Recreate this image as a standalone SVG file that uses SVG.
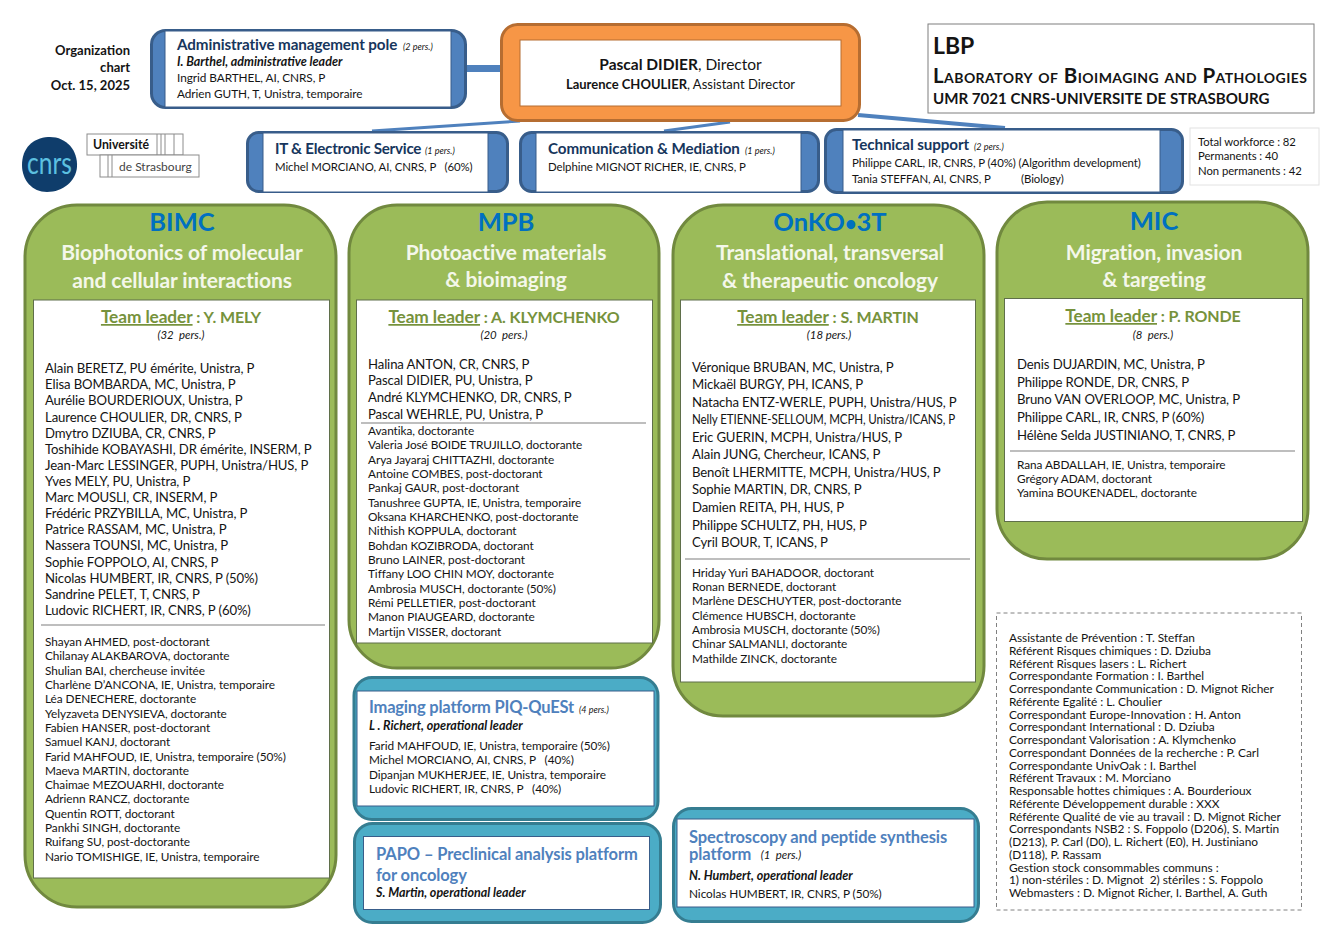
<svg xmlns="http://www.w3.org/2000/svg" width="1340" height="948" viewBox="0 0 1340 948">
<style>
text{font-family:Lato,"Liberation Sans",sans-serif;fill:#141414;white-space:pre}
.m{font-size:13.15px;letter-spacing:-.12px}
.s{font-size:11.8px;letter-spacing:-.06px}
.s2{font-size:11.4px;letter-spacing:-.06px}
.n{font-size:11.3px;letter-spacing:-.04px}
.r{font-size:11.9px;letter-spacing:-.04px}
.tt{font-size:25.5px;font-weight:700;fill:#0070c0;text-anchor:middle}
.st{font-size:21px;font-weight:700;fill:#f4f7ea;text-anchor:middle;letter-spacing:-.1px}
.tl{font-size:16px;font-weight:700;fill:#76923c;text-anchor:middle;letter-spacing:-.1px}
.tl .u{font-size:17.3px;text-decoration:underline}
.p{font-size:11.4px;font-style:italic;text-anchor:middle}
.pp{font-size:9px;font-style:italic}
.h{font-size:15.2px;font-weight:700;fill:#17365d;letter-spacing:-.1px}
.b{font-size:16.5px;font-weight:700;fill:#4f81bd;letter-spacing:-.1px}
.bi{font-size:12.5px;font-weight:700;font-style:italic}
.g{fill:#9bbb59;stroke:#71893f;stroke-width:3}
.a{fill:#4f81bd;stroke:#385d8a;stroke-width:3}
.c{fill:#4bacc6;stroke:#357d91;stroke-width:3}
.w{fill:#fff;stroke:#5f6f4a;stroke-width:1}
.wb{fill:#fff;stroke:#385d8a;stroke-width:1}
.rule{stroke:#7f7f7f;stroke-width:1.2}
.lg{fill:#fff;stroke:#8c8c8c;stroke-width:1}
</style>
<g id="connectors" stroke="#4f81bd" fill="none">
<path d="M466 68.500H501" stroke-width="7"/>
<path d="M520 121L372 131" stroke-width="3"/>
<path d="M730 122L664 131" stroke-width="3"/>
<path d="M858 115L1005 128" stroke-width="4"/>
</g>
<g id="org-label" text-anchor="end">
<text x="130" y="55" font-size="13" font-weight="700">Organization</text>
<text x="130" y="72" font-size="13" font-weight="700">chart</text>
<text x="130" y="90" font-size="13" font-weight="700">Oct. 15, 2025</text>
</g>
<g id="admin-pole">
<rect class="a" x="151.500" y="30.500" width="314" height="77" rx="14"/>
<rect class="wb" x="165" y="31" width="286" height="76"/>
<text class="h" x="177" y="50">Administrative management pole</text><text class="pp" x="403" y="50">(2 pers.)</text>
<text class="bi" x="177" y="65.500">I. Barthel, administrative leader</text>
<text class="s" x="177" y="82">Ingrid BARTHEL, AI, CNRS, P</text>
<text class="s" x="177" y="98">Adrien GUTH, T, Unistra, temporaire</text>
</g>
<g id="director">
<rect x="501.500" y="24.500" width="358" height="96" rx="16" fill="#f79646" stroke="#b66d31" stroke-width="3"/>
<rect x="520" y="40" width="321" height="66" fill="#fff" stroke="#b66d31" stroke-width="1"/>
<text x="680.500" y="70" font-size="15.500" text-anchor="middle"><tspan font-weight="700">Pascal DIDIER</tspan>, Director</text>
<text x="680.500" y="89" font-size="13" text-anchor="middle"><tspan font-weight="700">Laurence CHOULIER</tspan>, Assistant Director</text>
</g>
<g id="lbp">
<rect x="928" y="24" width="386" height="89" fill="#fff" stroke="#7f7f7f" stroke-width="1"/>
<text x="933" y="54" font-size="23" font-weight="700">LBP</text>
<text x="933" y="83" font-size="20.500" font-weight="700" letter-spacing=".43" style="font-variant:small-caps">Laboratory of Bioimaging and Pathologies</text>
<text x="933" y="104" font-size="15.100" font-weight="700">UMR 7021 CNRS-UNIVERSITE DE STRASBOURG</text>
</g>
<g id="logos">
<path d="M22 165C22 148 33 138 48 137C66 136 78 150 77 167C76 181 63 192 47 192C32 192 22 180 22 165Z" fill="#0f3d6b"/>
<text x="27" y="174" font-size="31" textLength="45" lengthAdjust="spacingAndGlyphs" style="fill:#5cc0e0">cnrs</text>
<rect class="lg" x="87" y="134" width="96" height="21"/>
<path class="lg" d="M157 134V155M161 134V155M165 134V155M174 134V155"/>
<rect class="lg" x="100" y="155" width="99" height="22"/>
<path class="lg" d="M108 155V177M112 155V177"/>
<text x="93" y="149" font-size="12.300" font-weight="700">Université</text>
<text x="119" y="171" font-size="12" style="fill:#444">de Strasbourg</text>
</g>
<g id="it-service">
<rect class="a" x="247.500" y="132.500" width="260" height="59" rx="11"/>
<rect class="wb" x="263" y="133" width="225" height="59"/>
<text class="h" x="275" y="154" style="letter-spacing:-.25px">IT &amp; Electronic Service</text><text class="pp" x="425" y="154">(1 pers.)</text>
<text class="s2" x="275" y="171">Michel MORCIANO, AI, CNRS, P   (60%)</text>
</g>
<g id="communication">
<rect class="a" x="520.500" y="132.500" width="298" height="59" rx="11"/>
<rect class="wb" x="536" y="133" width="265" height="59"/>
<text class="h" x="548" y="154">Communication &amp; Mediation</text><text class="pp" x="745" y="154">(1 pers.)</text>
<text class="s2" x="548" y="171">Delphine MIGNOT RICHER, IE, CNRS, P</text>
</g>
<g id="technical">
<rect class="a" x="825.500" y="129.500" width="357" height="63" rx="11"/>
<rect class="wb" x="843" y="130" width="317" height="62"/>
<text class="h" x="852" y="150">Technical support</text><text class="pp" x="974" y="150">(2 pers.)</text>
<text class="s2" x="852" y="167">Philippe CARL, IR, CNRS, P (40%) (Algorithm development)</text>
<text class="s2" x="852" y="183">Tania STEFFAN, AI, CNRS, P</text><text class="s2" x="1021" y="183">(Biology)</text>
</g>
<g id="workforce">
<rect x="1190" y="128" width="129" height="57" fill="#fff" stroke="#e2e2e2"/>
<text class="n" x="1198" y="146">Total workforce : 82</text>
<text class="n" x="1198" y="160">Permanents : 40</text>
<text class="n" x="1198" y="175">Non permanents : 42</text>
</g>
<g id="bimc">
<rect class="g" x="25" y="205" width="311" height="702" rx="52"/>
<rect class="w" x="33.500" y="300" width="296" height="578"/>
<text class="tt" x="182" y="231">BIMC</text>
<text class="st" x="182" y="260">Biophotonics of molecular</text>
<text class="st" x="182" y="288">and cellular interactions</text>
<text class="tl" x="181" y="323"><tspan class="u">Team leader</tspan> : Y. MELY</text>
<text class="p" x="181" y="339">(32  pers.)</text>
<text class="m" x="45" y="372.500">Alain BERETZ, PU émérite, Unistra, P</text>
<text class="m" x="45" y="388.500">Elisa BOMBARDA, MC, Unistra, P</text>
<text class="m" x="45" y="404.500">Aurélie BOURDERIOUX, Unistra, P</text>
<text class="m" x="45" y="421.500">Laurence CHOULIER, DR, CNRS, P</text>
<text class="m" x="45" y="438">Dmytro DZIUBA, CR, CNRS, P</text>
<text class="m" x="45" y="454">Toshihide KOBAYASHI, DR émérite, INSERM, P</text>
<text class="m" x="45" y="470">Jean-Marc LESSINGER, PUPH, Unistra/HUS, P</text>
<text class="m" x="45" y="486">Yves MELY, PU, Unistra, P</text>
<text class="m" x="45" y="502">Marc MOUSLI, CR, INSERM, P</text>
<text class="m" x="45" y="518">Frédéric PRZYBILLA, MC, Unistra, P</text>
<text class="m" x="45" y="534">Patrice RASSAM, MC, Unistra, P</text>
<text class="m" x="45" y="550">Nassera TOUNSI, MC, Unistra, P</text>
<text class="m" x="45" y="566.500">Sophie FOPPOLO, AI, CNRS, P</text>
<text class="m" x="45" y="583">Nicolas HUMBERT, IR, CNRS, P (50%)</text>
<text class="m" x="45" y="599">Sandrine PELET, T, CNRS, P</text>
<text class="m" x="45" y="615">Ludovic RICHERT, IR, CNRS, P (60%)</text>
<path class="rule" d="M41 625H325"/>
<text class="s" x="45" y="646">Shayan AHMED, post-doctorant</text>
<text class="s" x="45" y="660">Chilanay ALAKBAROVA, doctorante</text>
<text class="s" x="45" y="675">Shulian BAI, chercheuse invitée</text>
<text class="s" x="45" y="689">Charlène D’ANCONA, IE, Unistra, temporaire</text>
<text class="s" x="45" y="703">Léa DENECHERE, doctorante</text>
<text class="s" x="45" y="718">Yelyzaveta DENYSIEVA, doctorante</text>
<text class="s" x="45" y="732">Fabien HANSER, post-doctorant</text>
<text class="s" x="45" y="746">Samuel KANJ, doctorant</text>
<text class="s" x="45" y="761">Farid MAHFOUD, IE, Unistra, temporaire (50%)</text>
<text class="s" x="45" y="775">Maeva MARTIN, doctorante</text>
<text class="s" x="45" y="789">Chaimae MEZOUARHI, doctorante</text>
<text class="s" x="45" y="803">Adrienn RANCZ, doctorante</text>
<text class="s" x="45" y="818">Quentin ROTT, doctorant</text>
<text class="s" x="45" y="832">Pankhi SINGH, doctorante</text>
<text class="s" x="45" y="846">Ruifang SU, post-doctorante</text>
<text class="s" x="45" y="861">Nario TOMISHIGE, IE, Unistra, temporaire</text>
</g>
<g id="mpb">
<rect class="g" x="349" y="205" width="310" height="463" rx="48"/>
<rect class="w" x="356.500" y="300" width="296" height="343"/>
<text class="tt" x="506" y="231">MPB</text>
<text class="st" x="506" y="260">Photoactive materials</text>
<text class="st" x="506" y="287">&amp; bioimaging</text>
<text class="tl" x="504" y="323"><tspan class="u">Team leader</tspan> : A. KLYMCHENKO</text>
<text class="p" x="504" y="339">(20  pers.)</text>
<text class="m" x="368" y="369">Halina ANTON, CR, CNRS, P</text>
<text class="m" x="368" y="385">Pascal DIDIER, PU, Unistra, P</text>
<text class="m" x="368" y="402">André KLYMCHENKO, DR, CNRS, P</text>
<text class="m" x="368" y="419">Pascal WEHRLE, PU, Unistra, P</text>
<path class="rule" d="M361 423H646"/>
<text class="s" x="368" y="435">Avantika, doctorante</text>
<text class="s" x="368" y="449">Valeria José BOIDE TRUJILLO, doctorante</text>
<text class="s" x="368" y="464">Arya Jayaraj CHITTAZHI, doctorante</text>
<text class="s" x="368" y="478">Antoine COMBES, post-doctorant</text>
<text class="s" x="368" y="492">Pankaj GAUR, post-doctorant</text>
<text class="s" x="368" y="507">Tanushree GUPTA, IE, Unistra, temporaire</text>
<text class="s" x="368" y="521">Oksana KHARCHENKO, post-doctorante</text>
<text class="s" x="368" y="535">Nithish KOPPULA, doctorant</text>
<text class="s" x="368" y="550">Bohdan KOZIBRODA, doctorant</text>
<text class="s" x="368" y="564">Bruno LAINER, post-doctorant</text>
<text class="s" x="368" y="578">Tiffany LOO CHIN MOY, doctorante</text>
<text class="s" x="368" y="593">Ambrosia MUSCH, doctorante (50%)</text>
<text class="s" x="368" y="607">Rémi PELLETIER, post-doctorant</text>
<text class="s" x="368" y="621">Manon PIAUGEARD, doctorante</text>
<text class="s" x="368" y="636">Martijn VISSER, doctorant</text>
</g>
<g id="onko">
<rect class="g" x="673" y="205" width="311" height="511" rx="50"/>
<rect class="w" x="680.500" y="300" width="295" height="382"/>
<text class="tt" x="830" y="231">OnKO<tspan font-size="20">•</tspan>3T</text>
<text class="st" x="830" y="260">Translational, transversal</text>
<text class="st" x="830" y="288">&amp; therapeutic oncology</text>
<text class="tl" x="828" y="323"><tspan class="u">Team leader</tspan> : S. MARTIN</text>
<text class="p" x="829" y="339">(18 pers.)</text>
<text class="m" x="692" y="372">Véronique BRUBAN, MC, Unistra, P</text>
<text class="m" x="692" y="389">Mickaël BURGY, PH, ICANS, P</text>
<text class="m" x="692" y="407">Natacha ENTZ-WERLE, PUPH, Unistra/HUS, P</text>
<text class="m" x="692" y="424" textLength="263" lengthAdjust="spacingAndGlyphs">Nelly ETIENNE-SELLOUM, MCPH, Unistra/ICANS, P</text>
<text class="m" x="692" y="442">Eric GUERIN, MCPH, Unistra/HUS, P</text>
<text class="m" x="692" y="459">Alain JUNG, Chercheur, ICANS, P</text>
<text class="m" x="692" y="477">Benoît LHERMITTE, MCPH, Unistra/HUS, P</text>
<text class="m" x="692" y="494">Sophie MARTIN, DR, CNRS, P</text>
<text class="m" x="692" y="512">Damien REITA, PH, HUS, P</text>
<text class="m" x="692" y="530">Philippe SCHULTZ, PH, HUS, P</text>
<text class="m" x="692" y="547">Cyril BOUR, T, ICANS, P</text>
<path class="rule" d="M685 559H970"/>
<text class="s" x="692" y="577">Hriday Yuri BAHADOOR, doctorant</text>
<text class="s" x="692" y="591">Ronan BERNEDE, doctorant</text>
<text class="s" x="692" y="605">Marlène DESCHUYTER, post-doctorante</text>
<text class="s" x="692" y="620">Clémence HUBSCH, doctorante</text>
<text class="s" x="692" y="634">Ambrosia MUSCH, doctorante (50%)</text>
<text class="s" x="692" y="648">Chinar SALMANLI, doctorante</text>
<text class="s" x="692" y="663">Mathilde ZINCK, doctorante</text>
</g>
<g id="mic">
<rect class="g" x="997" y="202" width="311" height="357" rx="50"/>
<rect class="w" x="1004.500" y="298.500" width="298" height="223"/>
<text class="tt" x="1154" y="230">MIC</text>
<text class="st" x="1154" y="260">Migration, invasion</text>
<text class="st" x="1154" y="287">&amp; targeting</text>
<text class="tl" x="1153" y="322"><tspan class="u">Team leader</tspan> : P. RONDE</text>
<text class="p" x="1153" y="339">(8  pers.)</text>
<text class="m" x="1017" y="369">Denis DUJARDIN, MC, Unistra, P</text>
<text class="m" x="1017" y="387">Philippe RONDE, DR, CNRS, P</text>
<text class="m" x="1017" y="404">Bruno VAN OVERLOOP, MC, Unistra, P</text>
<text class="m" x="1017" y="422">Philippe CARL, IR, CNRS, P (60%)</text>
<text class="m" x="1017" y="440">Hélène Selda JUSTINIANO, T, CNRS, P</text>
<path class="rule" d="M1010 451H1295"/>
<text class="s" x="1017" y="469">Rana ABDALLAH, IE, Unistra, temporaire</text>
<text class="s" x="1017" y="483">Grégory ADAM, doctorant</text>
<text class="s" x="1017" y="497">Yamina BOUKENADEL, doctorante</text>
</g>
<g id="piq-quest">
<rect class="c" x="354" y="677.500" width="304" height="142" rx="18"/>
<rect class="wb" x="357" y="691" width="297" height="115"/>
<text class="b" x="369" y="713" style="letter-spacing:-.2px">Imaging platform PIQ-QuESt</text><text class="pp" x="579" y="713">(4 pers.)</text>
<text class="bi" x="369" y="730">L . Richert, operational leader</text>
<text class="s" x="369" y="750">Farid MAHFOUD, IE, Unistra, temporaire (50%)</text>
<text class="s" x="369" y="764">Michel MORCIANO, AI, CNRS, P   (40%)</text>
<text class="s" x="369" y="779">Dipanjan MUKHERJEE, IE, Unistra, temporaire</text>
<text class="s" x="369" y="793">Ludovic RICHERT, IR, CNRS, P   (40%)</text>
</g>
<g id="papo">
<rect class="c" x="354.500" y="823.500" width="306" height="99" rx="18"/>
<rect class="wb" x="363.500" y="836.500" width="286" height="73"/>
<text class="b" x="376" y="859.500">PAPO – Preclinical analysis platform</text>
<text class="b" x="376" y="880.500">for oncology</text>
<text class="bi" x="376" y="897">S. Martin, operational leader</text>
</g>
<g id="spectroscopy">
<rect class="c" x="673.500" y="808.500" width="305" height="113" rx="18"/>
<rect class="wb" x="677" y="819" width="297" height="88"/>
<text class="b" x="689" y="842.500">Spectroscopy and peptide synthesis</text>
<text class="b" x="689" y="859.500">platform</text><text class="p" x="781" y="859">(1  pers.)</text>
<text class="bi" x="689" y="880">N. Humbert, operational leader</text>
<text class="s" x="689" y="898">Nicolas HUMBERT, IR, CNRS, P (50%)</text>
</g>
<g id="roles">
<rect x="996.500" y="613" width="305" height="297" fill="#fff" stroke="#808080" stroke-width="1" stroke-dasharray="4 3"/>
<text class="r" x="1009" y="642">Assistante de Prévention : T. Steffan</text>
<text class="r" x="1009" y="654.750">Référent Risques chimiques : D. Dziuba</text>
<text class="r" x="1009" y="667.500">Référent Risques lasers : L. Richert</text>
<text class="r" x="1009" y="680.250">Correspondante Formation : I. Barthel</text>
<text class="r" x="1009" y="693">Correspondante Communication : D. Mignot Richer</text>
<text class="r" x="1009" y="705.750">Référente Egalité : L. Choulier</text>
<text class="r" x="1009" y="718.500">Correspondant Europe-Innovation : H. Anton</text>
<text class="r" x="1009" y="731.250">Correspondant International : D. Dziuba</text>
<text class="r" x="1009" y="744">Correspondant Valorisation : A. Klymchenko</text>
<text class="r" x="1009" y="756.750">Correspondant Données de la recherche : P. Carl</text>
<text class="r" x="1009" y="769.500">Correspondante UnivOak : I. Barthel</text>
<text class="r" x="1009" y="782.250">Référent Travaux : M. Morciano</text>
<text class="r" x="1009" y="795">Responsable hottes chimiques : A. Bourderioux</text>
<text class="r" x="1009" y="807.750">Référente Développement durable : XXX</text>
<text class="r" x="1009" y="820.500">Référente Qualité de vie au travail : D. Mignot Richer</text>
<text class="r" x="1009" y="833.250">Correspondants NSB2 : S. Foppolo (D206), S. Martin</text>
<text class="r" x="1009" y="846">(D213), P. Carl (D0), L. Richert (E0), H. Justiniano</text>
<text class="r" x="1009" y="858.750">(D118), P. Rassam</text>
<text class="r" x="1009" y="871.500">Gestion stock consommables communs :</text>
<text class="r" x="1009" y="884.250">1) non-stériles : D. Mignot  2) stériles : S. Foppolo</text>
<text class="r" x="1009" y="897">Webmasters : D. Mignot Richer, I. Barthel, A. Guth</text>
</g>
</svg>
